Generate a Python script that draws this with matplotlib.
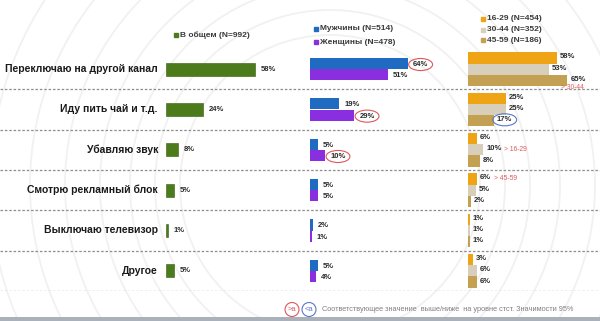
import matplotlib.pyplot as plt
from matplotlib.patches import Circle

W, H = 600, 321
PX_PER_PCT = 1.53

categories = [
    "Переключаю на другой канал",
    "Иду пить чай и т.д.",
    "Убавляю звук",
    "Смотрю рекламный блок",
    "Выключаю телевизор",
    "Другое",
]
total = [58, 24, 8, 5, 1, 5]
men = [64, 19, 5, 5, 2, 5]
women = [51, 29, 10, 5, 1, 4]
age_16_29 = [58, 25, 6, 6, 1, 3]
age_30_44 = [53, 25, 10, 5, 1, 6]
age_45_59 = [65, 17, 8, 2, 1, 6]

total_label = "В общем (N=992)"
gender_labels = ["Мужчины (N=514)", "Женщины (N=478)"]
age_labels = ["16-29 (N=454)", "30-44 (N=352)", "45-59 (N=186)"]

# significance marks: (series index in panel, row)
gender_high = [(0, 0), (1, 1), (1, 2)]
age_low = [(2, 1)]
age_notes = [(2, 0, "> 30-44"), (1, 2, "> 16-29"), (0, 3, "> 45-59")]
footer = "Соответствующее значение  выше/ниже  на уровне стст. Значимости 95%"

GREEN = "#4b7b1b"
BLUE = "#1f6bc2"
PURPLE = "#8a2fe0"
ORANGE = "#eea414"
BEIGE = "#d8cfbb"
TAN = "#c4a052"
RED = "#e0565a"
LBLUE = "#5a78c8"
TXT = "#2a2a2a"

plt.rcParams["font.family"] = ["Liberation Sans", "DejaVu Sans"]

fig = plt.figure(figsize=(W / 100, H / 100), dpi=100)
fig.patch.set_facecolor("white")

# background / layout axes in pixel units
bg = fig.add_axes([0, 0, 1, 1])
bg.set_xlim(0, W)
bg.set_ylim(H, 0)
bg.axis("off")
for r in [150, 175, 200, 230, 265, 300, 340]:
    bg.add_patch(Circle((330, 185), r, fill=False, ec="#f1f1f1", lw=1.3))
bg.axhspan(317, H, color="#aab1ba", lw=0)

TOP, BOT = 49, 291
n = len(categories)


def panel(left_px, width_px):
    ax = fig.add_axes([left_px / W, (H - BOT) / H, width_px / W, (BOT - TOP) / H])
    ax.set_xlim(0, width_px / PX_PER_PCT)
    ax.set_ylim(n, 0)
    ax.axis("off")
    return ax


# separators
grid = fig.add_axes([0, (H - BOT) / H, 1, (BOT - TOP) / H])
grid.set_xlim(0, 1)
grid.set_ylim(n, 0)
grid.axis("off")
for i in range(1, n + 1):
    grid.axhline(i, color="#8c8c8c", lw=0.9, ls=(0, (2, 1.5)))

rows = [i + 0.5 for i in range(n)]


def labels(ax, vals, ys, dx=5, dy=0, circled=(), ring=RED):
    for i, (v, y) in enumerate(zip(vals, ys)):
        bbox = None
        if i in circled:
            bbox = dict(boxstyle="ellipse,pad=0.1", fc="none", ec=ring, lw=0.8)
        ax.annotate(f"{v}%", (v, y), xytext=(dx * 0.72, -dy * 0.72),
                    textcoords="offset points", ha="left", va="center",
                    fontsize=5.5, fontweight="bold", color=TXT, bbox=bbox)


# panel 1: total
ax1 = panel(166, 130)
ax1.barh(rows, total, height=0.33, color=GREEN, edgecolor="#365c10", lw=0.4)
labels(ax1, total, rows, dx=6)
for y, c in zip(rows, categories):
    ax1.annotate(c, (0, y), xytext=(-8 * 0.72, 0), textcoords="offset points",
                 ha="right", va="center", fontsize=7.5, fontweight="bold",
                 color="#1a1a1a")

# panel 2: gender
ax2 = panel(310, 150)
for k, (vals, col) in enumerate([(men, BLUE), (women, PURPLE)]):
    ys = [r + (k - 0.5) * 0.28 for r in rows]
    ax2.barh(ys, vals, height=0.28, color=col, lw=0)
    circ = [row for s, row in gender_high if s == k]
    labels(ax2, vals, ys, dx=5, dy=1, circled=circ)

# panel 3: age
ax3 = panel(468, 132)
age_series = [(age_16_29, ORANGE), (age_30_44, BEIGE), (age_45_59, TAN)]
for k, (vals, col) in enumerate(age_series):
    ys = [r + (k - 1) * 0.28 for r in rows]
    ax3.barh(ys, vals, height=0.28, color=col, lw=0)
    circ = [row for s, row in age_low if s == k]
    labels(ax3, vals, ys, dx=3, dy=-1, circled=circ, ring=LBLUE)
    for s, row, note in age_notes:
        if s == k:
            off = (-6, -7) if row == 0 else (len(f"{vals[row]}") * 4.5 + 12, 0)
            ax3.annotate(note, (vals[row], ys[row]), xytext=(off[0] * 0.72, off[1] * 0.72),
                         textcoords="offset points", ha="left", va="center",
                         fontsize=4.8, color=RED)

# legends
lg = dict(fontsize=6, fontweight="bold", color="#3a3a3a", va="center", ha="left")
bg.plot(176, 35, marker="s", ms=2.6, color=GREEN)
bg.text(180, 35, total_label, **lg)
for y, c, t in zip([29, 42], [BLUE, PURPLE], gender_labels):
    bg.plot(316, y, marker="s", ms=2.6, color=c)
    bg.text(320, y, t, **lg)
for y, c, t in zip([19, 29.5, 40], [ORANGE, BEIGE, TAN], age_labels):
    bg.plot(483, y, marker="s", ms=2.6, color=c)
    bg.text(487, y, t, **lg)

# footer
bg.text(292, 309.5, ">a", fontsize=5.5, color=RED, ha="center", va="center",
        bbox=dict(boxstyle="circle,pad=0.35", fc="white", ec=RED, lw=0.8))
bg.text(309, 309.5, "<a", fontsize=5.5, color=LBLUE, ha="center", va="center",
        bbox=dict(boxstyle="circle,pad=0.35", fc="white", ec=LBLUE, lw=0.8))
bg.text(322, 309.5, footer, fontsize=5.3, color="#808080", ha="left", va="center")

fig.savefig("out.png", dpi=100, facecolor="white")
